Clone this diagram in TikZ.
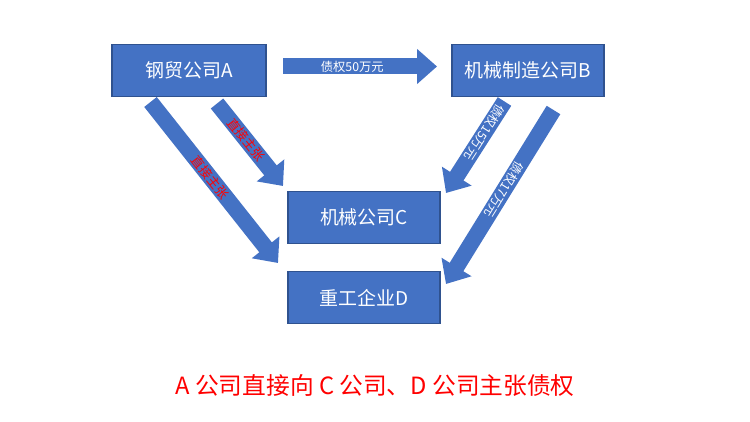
\documentclass[tikz,border=0pt]{standalone}
\usepackage{fontspec}
\setmainfont{Noto Sans CJK SC}
\usetikzlibrary{arrows.meta}
\definecolor{boxblue}{HTML}{4472C4}
\definecolor{boxedge}{HTML}{2F528F}
\definecolor{notered}{HTML}{FF0000}

\tikzset{
  firm/.style={draw=boxedge, fill=boxblue, line width=0.6pt, text=white,
    minimum width=3.04cm, minimum height=1.04cm, inner sep=0pt,
    font=\fontsize{10.8}{12}\selectfont},
  bigarrow/.style={draw=boxblue, line width=0.32cm,
    -{Triangle[width=0.68cm,length=0.4cm]}},
  debt/.style={text=white, inner sep=0pt, font=\fontsize{7}{8}\selectfont},
  claim/.style={text=notered, inner sep=0pt, font=\fontsize{7.2}{8}\selectfont},
}

\begin{document}
\begin{tikzpicture}[x=0.02cm, y=-0.02cm]
\useasboundingbox (0,0) rectangle (750,422);

\node[firm, minimum width=3.08cm] (A) at (189,70.5) {钢贸公司A};
\node[firm] (B) at (528,70.5) {机械制造公司B};
\node[firm] (C) at (364,217.5) {机械公司C};
\node[firm] (D) at (364,297.5) {重工企业D};

\coordinate (ab0) at (283,66.5);
\coordinate (ab1) at (437,66.5);
\coordinate (ac0) at (217,103.5);
\coordinate (ac1) at (283,186);
\coordinate (ad0) at (150.5,102);
\coordinate (ad1) at (278,263);
\coordinate (bc0) at (504.5,101.5);
\coordinate (bc1) at (446,193);
\coordinate (bd0) at (553.5,110);
\coordinate (bd1) at (446,284);

\draw[bigarrow] (ab0) -- (ab1) node[debt, pos=0.45] {债权50万元};
\draw[bigarrow] (ac0) -- (ac1) node[claim, sloped, pos=0.44] {直接主张};
\draw[bigarrow] (ad0) -- (ad1) node[claim, sloped, pos=0.47] {直接主张};
\draw[bigarrow] (bc0) -- (bc1) node[debt, sloped, allow upside down, pos=0.34] {债权15万元};
\draw[bigarrow] (bd0) -- (bd1) node[debt, sloped, allow upside down, pos=0.46] {债权17万元};

\node[text=notered, font=\fontsize{13.5}{16}\selectfont] (note) at (375,386)
  {A 公司直接向 C 公司、D 公司主张债权};
\end{tikzpicture}
\end{document}
